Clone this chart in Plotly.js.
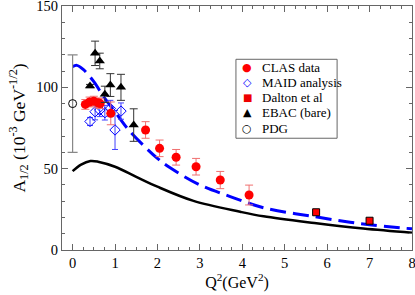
<!DOCTYPE html>
<html><head><meta charset="utf-8">
<script src="https://cdn.plot.ly/plotly-3.0.1.min.js"></script>
<style>
body{margin:0;padding:0;}
#chart{width:415px;height:295px;}
</style>
</head><body><div id="chart"></div>
<script>
// CLAS data
const clasQ2 = [0.3, 0.4, 0.5, 0.6, 0.65, 0.9, 1.72, 2.05, 2.44, 2.91, 3.48, 4.16];
const clasA  = [89.5, 91, 91.5, 90.5, 90, 84, 73.8, 62.5, 57, 51.2, 43, 33.8];
const clasErr= [3, 3, 3, 3, 3, 7, 5.1, 5.1, 4.8, 5.1, 5.3, 6.1];
// MAID analysis
const maidQ2 = [0.41, 0.53, 0.64, 0.76, 0.89, 1.0, 1.14];
const maidA  = [79, 85, 86, 84.4, 87, 73.8, 85.4];
const maidErr= [2.5, 5, 4, 4.5, 5, 12, 5];
// Dalton et al
const daltonQ2 = [5.74, 7.0];
const daltonA  = [23.2, 18];
// EBAC (bare)
const ebacQ2 = [0.41, 0.53, 0.64, 0.76, 0.89, 1.14, 1.44];
const ebacA  = [100.8, 120.9, 116.2, 95.7, 101.4, 100, 76.8];
const ebacErr= [1, 7.5, 4.8, 5, 7, 8, 10];
// PDG
const pdgQ2 = [0];
const pdgA  = [90];
const pdgErr= [30];
// dashed model curve
const dashQ2 = [0, 0.1, 0.25, 0.5, 0.75, 1.0, 1.3, 1.7, 2.0, 2.3, 3.0, 3.7, 4.5, 5.7, 6.85, 8.0];
const dashA  = [112.7, 113.5, 111, 103.5, 93.5, 85, 74.5, 63.5, 56.3, 50.5, 40, 33, 26, 20.5, 16, 13];
// solid curve
const solidQ2 = [0, 0.2, 0.42, 0.6, 1.0, 1.5, 2.0, 2.85, 3.95, 4.5, 5.7, 6.85, 8.0];
const solidA  = [48.5, 52.5, 54.7, 54.3, 51.2, 45, 38.9, 30.2, 23.5, 20.7, 16.6, 13.2, 10.6];
// legend
const legendNames   = ['CLAS data', 'MAID analysis', 'Dalton et al', 'EBAC (bare)', 'PDG'];
const legendSymbols = ['●', '◇', '■', '▲', '○'];
const legendColors  = ['#ff0000', '#0000ff', '#ee0000', '#000000', '#000000'];

const serif = "Liberation Serif";
const traces = [
  {x: dashQ2, y: dashA, mode:'lines', line:{color:'#0000ff', width:3, dash:'16px,7px', shape:'spline'}, hoverinfo:'skip'},
  {x: solidQ2, y: solidA, mode:'lines', line:{color:'#000000', width:2.5, shape:'spline'}, hoverinfo:'skip'},
  {x: pdgQ2, y: pdgA, mode:'markers', name:'PDG',
   marker:{symbol:'circle-open', size:8, color:'#000', line:{width:1}},
   error_y:{type:'data', array:pdgErr, visible:true, color:'#888', thickness:1.2, width:5}},
  {x: maidQ2, y: maidA, mode:'markers', name:'MAID analysis',
   marker:{symbol:'diamond-open', size:8, color:'#0000ff', line:{width:1}},
   error_y:{type:'data', array:maidErr, visible:true, color:'#4040ff', thickness:1, width:3}},
  {x: clasQ2, y: clasA, mode:'markers', name:'CLAS data',
   marker:{symbol:'circle', size:9, color:'#ff0000'},
   error_y:{type:'data', array:clasErr, visible:true, color:'#f07070', thickness:1, width:4}},
  {x: ebacQ2, y: ebacA, mode:'markers', name:'EBAC (bare)',
   marker:{symbol:'triangle-up', size:9, color:'#000'},
   error_y:{type:'data', array:ebacErr, visible:true, color:'#333', thickness:1, width:4}},
  {x: daltonQ2, y: daltonA, mode:'markers', name:'Dalton et al',
   marker:{symbol:'square', size:7, color:'#ff0000', line:{color:'#000', width:1}}}
];
// legend as annotations in a box
const legTop = 0.746, legStep = 0.0615;
const annotations = [];
legendNames.forEach((n, i) => {
  const yy = legTop - i * legStep;
  annotations.push({xref:'paper', yref:'paper', x:0.529, y:yy, xanchor:'center', yanchor:'middle', showarrow:false,
    text: legendSymbols[i], font:{family:'DejaVu Sans', size: (i===2 ? 10 : 11), color: legendColors[i]}});
  annotations.push({xref:'paper', yref:'paper', x:0.567, y:yy, xanchor:'left', yanchor:'middle', showarrow:false,
    text: n, font:{family:serif, size:13, color:'#000'}});
});
const axisCommon = {showline:true, linecolor:'#666', linewidth:1, mirror:'allticks', ticks:'inside', ticklen:6, tickcolor:'#666',
  showgrid:false, zeroline:false, ticklabeloverflow:'allow', tickfont:{family:serif, size:14.5, color:'#000'}};
const layout = {
  width:415, height:295, margin:{l:62, r:3, t:6, b:45},
  paper_bgcolor:'#fff', plot_bgcolor:'#fff', showlegend:false,
  font:{family:serif},
  xaxis: Object.assign({}, axisCommon, {range:[-0.25, 8.0001], dtick:1, tick0:0,
    minor:{ticks:'inside', ticklen:3, dtick:0.25, tickcolor:'#666', showgrid:false},
    title:{text:'Q<sup>2</sup>(GeV<sup>2</sup>)', font:{family:serif, size:16, color:'#000'}, standoff:4}}),
  yaxis: Object.assign({}, axisCommon, {range:[0, 150], dtick:50, tick0:0,
    minor:{ticks:'inside', ticklen:3, dtick:10, tickcolor:'#666', showgrid:false},
    title:{text:'A<sub>1/2</sub> (10<sup>-3</sup> GeV<sup>-1/2</sup>)', font:{family:serif, size:17.5, color:'#000'}, standoff:6}}),
  shapes:[{type:'rect', xref:'paper', yref:'paper', x0:0.497, x1:0.786, y0:0.458, y1:0.7816,
    line:{color:'#666', width:1}, fillcolor:'#fff', layer:'below'}],
  annotations: annotations
};
Plotly.newPlot('chart', traces, layout, {displayModeBar:false, staticPlot:true});
</script></body></html>
